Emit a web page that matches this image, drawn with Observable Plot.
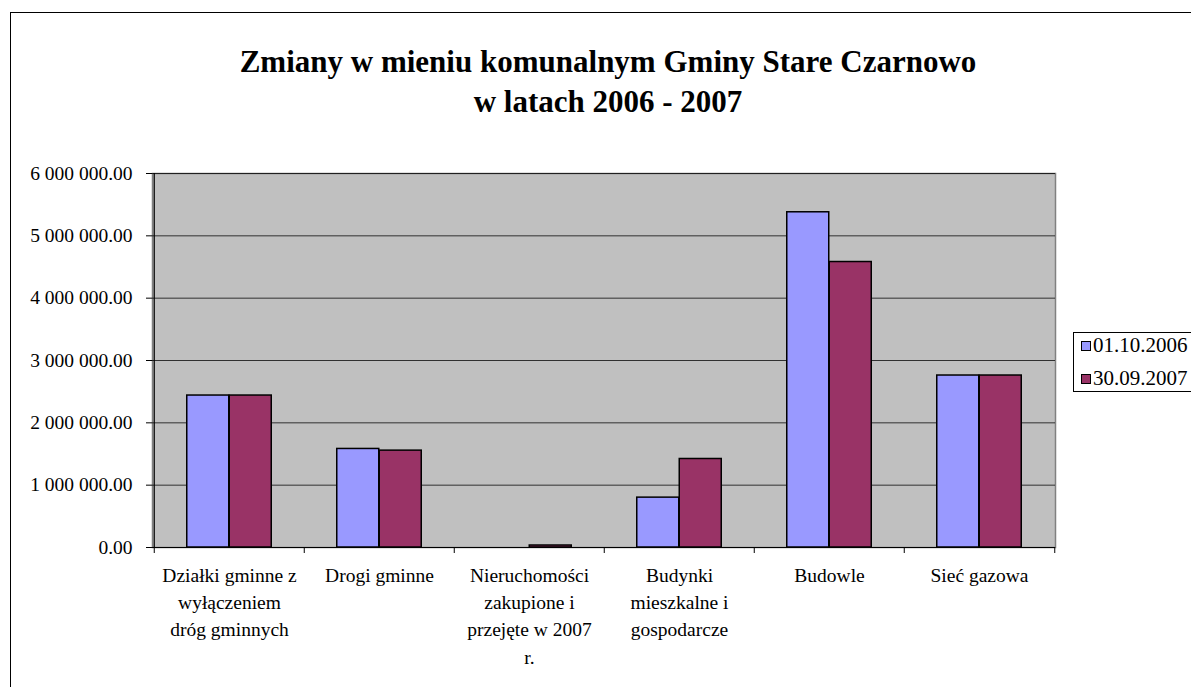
<!DOCTYPE html>
<html>
<head>
<meta charset="utf-8">
<script src="https://cdn.jsdelivr.net/npm/d3@7"></script>
<script src="https://cdn.jsdelivr.net/npm/@observablehq/plot@0.6"></script>
<style>
  html, body { margin: 0; padding: 0; background: #fff; }
  #wrap { position: relative; width: 1191px; height: 687px; overflow: hidden; font-family: "Liberation Serif", "Times New Roman", Times, serif; color: #000; }
  #border { position: absolute; left: 10px; top: 12px; width: 1300px; height: 800px; border: 1px solid #000; box-sizing: border-box; }
  #title { position: absolute; left: 0; top: 42px; width: 1216px; text-align: center; font-weight: bold; font-size: 31px; line-height: 40px; }
  #chart { position: absolute; left: 0; top: 150px; }
  #legend { position: absolute; left: 1073px; top: 332px; width: 200px; height: 60px; border: 1px solid #000; box-sizing: border-box; background: #fff; font-size: 21px; }
  .item { position: absolute; left: 7px; height: 24px; line-height: 24px; white-space: nowrap; }
  .sw { display: inline-block; width: 8px; height: 8px; border: 1px solid #000; margin-right: 2px; vertical-align: 1px; }
</style>
</head>
<body>
<div id="wrap">
  <div id="border"></div>
  <div id="title">Zmiany w mieniu komunalnym Gminy Stare Czarnowo<br>w latach 2006 - 2007</div>
  <div id="chart"></div>
  <div id="legend"></div>
</div>
<script>
const categories = [
  "Działki gminne z\nwyłączeniem\ndróg gminnych",
  "Drogi gminne",
  "Nieruchomości\nzakupione i\nprzejęte w 2007\nr.",
  "Budynki\nmieszkalne i\ngospodarcze",
  "Budowle",
  "Sieć gazowa"
];
const series = ["01.10.2006", "30.09.2007"];
const values2006 = [2438000, 1581000, 0, 800000, 5378000, 2759000];
const values2007 = [2438000, 1554000, 32000, 1420000, 4580000, 2759000];
const yTicks = [0, 1000000, 2000000, 3000000, 4000000, 5000000, 6000000];
const colors = ["#9999FF", "#993366"];

const rows = [];
categories.forEach((c, i) => {
  rows.push({category: c, series: series[0], value: values2006[i]});
  rows.push({category: c, series: series[1], value: values2007[i]});
});

const W = 1191, H = 537;
const mL = 152, mR = 136, mT = 23, mB = 140;
const bw = (W - mL - mR) / categories.length;
const group = 85;
const half = bw / 2;
const outer = (bw - group) / 2;

const fmt = d => d3.format(",.2f")(d).replace(/,/g, " ");
const serifFont = "'Liberation Serif', 'Times New Roman', Times, serif";

const chart = Plot.plot({
  width: W, height: H,
  marginLeft: mL, marginRight: mR, marginTop: mT, marginBottom: mB,
  style: {fontFamily: serifFont, fontSize: "19.5px", color: "#000", background: "transparent", overflow: "visible"},
  x: {domain: categories, padding: 0, label: null},
  y: {domain: [0, 6000000], label: null},
  color: {domain: series, range: colors},
  marks: [
    Plot.frame({fill: "#c0c0c0", stroke: "#808080", strokeWidth: 1.5}),
    Plot.ruleY(yTicks.slice(1), {stroke: "#000", strokeOpacity: 0.75}),
    Plot.barY(rows.filter(d => d.series === series[0]), {x: "category", y: "value", fill: "series", stroke: "#000", strokeWidth: 1.5, insetLeft: outer, insetRight: half}),
    Plot.barY(rows.filter(d => d.series === series[1]), {x: "category", y: "value", fill: "series", stroke: "#000", strokeWidth: 1.5, insetLeft: half, insetRight: outer}),
    Plot.ruleY([0], {stroke: "#000", strokeWidth: 1.2}),
    Plot.ruleX([categories[0]], {dx: -half, stroke: "#000", strokeWidth: 1.2}),
    Plot.axisY(yTicks, {tickSize: 6, tickPadding: 14, tickFormat: fmt, fontSize: 19.5, label: null}),
    Plot.axisX(categories, {tickSize: 6, dx: -half, tickFormat: () => "", label: null}),
    Plot.axisX([categories[categories.length - 1]], {tickSize: 6, dx: half, tickFormat: () => "", label: null}),
    Plot.axisX(categories, {tickSize: 0, tickPadding: 15, fontSize: 19.5, lineHeight: 1.4, label: null})
  ]
});
chart.querySelectorAll("text").forEach(t => t.setAttribute("font-family", serifFont));
document.getElementById("chart").appendChild(chart);

const legend = document.getElementById("legend");
series.forEach((s, i) => {
  const it = document.createElement("div");
  it.className = "item";
  it.style.top = (i === 0 ? 0 : 33) + "px";
  const sw = document.createElement("span");
  sw.className = "sw";
  sw.style.background = colors[i];
  it.appendChild(sw);
  it.appendChild(document.createTextNode(s));
  legend.appendChild(it);
});
</script>
</body>
</html>
